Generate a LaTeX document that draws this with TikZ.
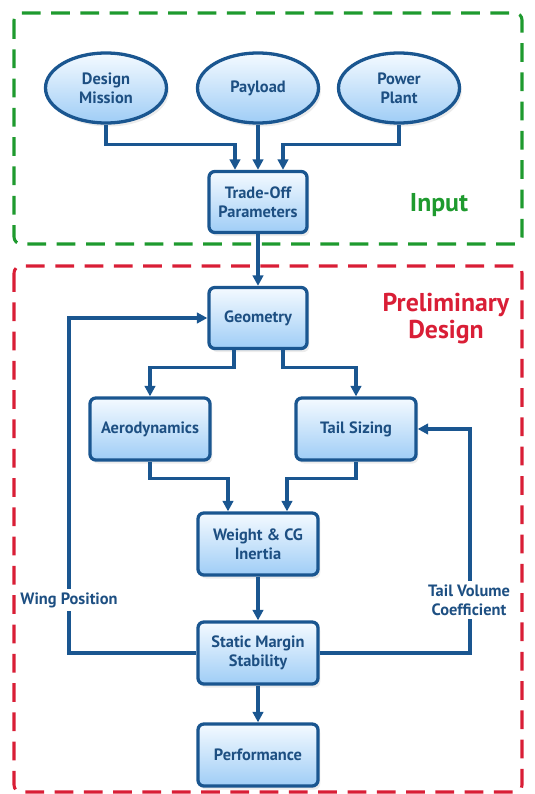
\documentclass[tikz,border=0pt]{standalone}
\usepackage{fontspec}
\setmainfont{PT Sans}
\usetikzlibrary{calc,shapes.geometric,arrows.meta,shadows}
\definecolor{bord}{HTML}{1A5690}
\definecolor{txtblue}{HTML}{1D4F82}
\definecolor{fillbot}{HTML}{9FCDF6}
\definecolor{filltop}{HTML}{F4FAFF}
\definecolor{grn}{HTML}{1E9A2E}
\definecolor{rd}{HTML}{D91E36}
\tikzset{
  base/.style={draw=bord, line width=2.8pt, top color=filltop, bottom color=fillbot,
    font=\fontsize{14}{16.5}\selectfont\bfseries, text=txtblue, align=center,
    inner sep=2pt, drop shadow={opacity=0.15, shadow xshift=2pt, shadow yshift=-3pt}},
  boxa/.style={base, rectangle, rounded corners=5pt, minimum width=2.94cm, minimum height=1.83cm},
  boxb/.style={base, rectangle, rounded corners=5pt, minimum width=3.6cm, minimum height=1.86cm},
  ell/.style={base, ellipse, minimum width=3.63cm, minimum height=2.1cm},
  conn/.style={draw=bord, line width=2.6pt, -{Triangle[length=9pt,width=9pt]}},
  lbl/.style={font=\fontsize{14}{16.5}\selectfont\bfseries, text=txtblue, align=center, fill=white, inner sep=3pt},
  frame/.style={line width=2.6pt, dash pattern=on 16pt off 9pt, rounded corners=6pt},
  title/.style={font=\fontsize{22}{26}\selectfont\bfseries, align=center}
}
\begin{document}
\begin{tikzpicture}[x=0.03cm,y=-0.03cm]
\useasboundingbox (0,0) rectangle (534,794);
% frames
\draw[frame, grn] (14,13) rectangle (522,244);
\draw[frame, rd] (14,266) rectangle (522,792);
\node[title, text=grn] (inp) at (439,205) {Input};
\node[title, text=rd] (pd) at (446,319) {Preliminary\\[-3pt]Design};
% nodes
\node[ell] (dm) at (106,88) {Design\\Mission};
\node[ell] (pl) at (258,88) {Payload};
\node[ell] (pp) at (399,88) {Power\\Plant};
\node[boxa] (tr) at (258,202) {Trade-Off\\Parameters};
\node[boxa] (geo) at (258,318) {Geometry};
\node[boxb] (aero) at (150,429) {Aerodynamics};
\node[boxb] (tail) at (356,429) {Tail Sizing};
\node[boxb] (wcg) at (258,544) {Weight \& CG\\Inertia};
\node[boxb] (sm) at (258,653) {Static Margin\\Stability};
\node[boxb] (perf) at (258,755) {Performance};
% connectors
\draw[conn] (dm.south) |- ($(tr.north)+(-23,-25)$) -- ($(tr.north)+(-23,0)$);
\draw[conn] (pl.south) -- (tr.north);
\draw[conn] (pp.south) |- ($(tr.north)+(25,-25)$) -- ($(tr.north)+(25,0)$);
\draw[conn] (tr.south) -- (geo.north);
\draw[conn] ($(geo.south)+(-24,0)$) |- ($(aero.north)+(0,-29)$) -- (aero.north);
\draw[conn] ($(geo.south)+(25,0)$) |- ($(tail.north)+(0,-29)$) -- (tail.north);
\draw[conn] (aero.south) |- ($(wcg.north)+(-30,-33)$) -- ($(wcg.north)+(-30,0)$);
\draw[conn] (tail.south) |- ($(wcg.north)+(29,-33)$) -- ($(wcg.north)+(29,0)$);
\draw[conn] (wcg.south) -- (sm.north);
\draw[conn] (sm.south) -- (perf.north);
\coordinate (wpx) at (69,653);
\coordinate (tvx) at (470,653);
\draw[conn] (sm.west) -- (wpx) |- (geo.west);
\draw[conn] (sm.east) -- (tvx) |- (tail.east);
\node[lbl] (wpl) at (69,600) {Wing Position};
\node[lbl] (tvl) at (469,600) {Tail Volume\\Coefficient};
\end{tikzpicture}
\end{document}
